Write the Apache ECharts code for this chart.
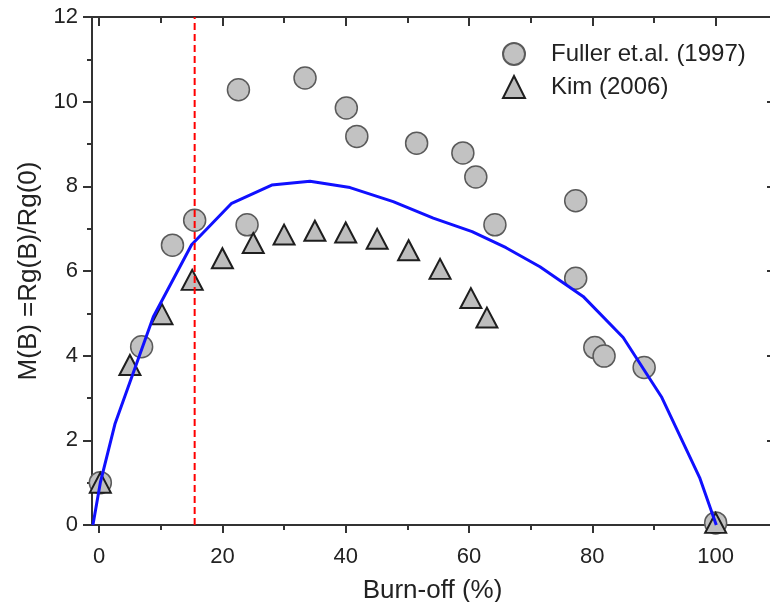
<!DOCTYPE html>
<html>
<head>
<meta charset="utf-8">
<script src="https://cdn.jsdelivr.net/npm/echarts@6/dist/echarts.min.js"></script>
<style>
html,body{margin:0;padding:0;background:#fff;}
#chart{width:770px;height:602px;}
</style>
</head>
<body>
<div id="chart"></div>
<script>
// ---- data ----
const fullerX = [0.2, 6.9, 11.9, 15.5, 22.6, 24.0, 33.4, 40.1, 41.8, 51.5, 59.0, 61.1, 64.2, 77.3, 77.3, 80.4, 81.9, 88.4, 100.0];
const fullerY = [1.0, 4.21, 6.61, 7.20, 10.28, 7.09, 10.56, 9.85, 9.18, 9.02, 8.79, 8.22, 7.09, 7.66, 5.83, 4.19, 3.99, 3.72, 0.05];
const kimX = [0.2, 5.0, 10.2, 15.1, 20.0, 25.0, 30.0, 35.0, 40.0, 45.1, 50.2, 55.3, 60.3, 62.9, 100.0];
const kimY = [1.0, 3.78, 4.98, 5.79, 6.30, 6.66, 6.86, 6.95, 6.91, 6.76, 6.49, 6.05, 5.36, 4.90, 0.05];
const fitX = [-1.0, 0.2, 2.6, 8.8, 15.0, 21.5, 28.0, 34.2, 40.7, 47.7, 54.2, 60.5, 66.0, 71.5, 78.5, 85.0, 91.2, 97.4, 100.1];
const fitY = [0.0, 1.0, 2.40, 4.92, 6.62, 7.60, 8.03, 8.12, 7.97, 7.64, 7.25, 6.93, 6.55, 6.10, 5.40, 4.43, 3.03, 1.12, 0.0];
const refLineX = 15.5;
const refLineY = [0, 12];
const xMajorTicks = [0, 20, 40, 60, 80, 100];
const xMinorTicks = [10, 30, 50, 70, 90];
const seriesNames = ['Fuller et.al. (1997)', 'Kim (2006)'];
const xTitle = 'Burn-off (%)';
const yTitle = 'M(B) =Rg(B)/Rg(0)';

const FONT = 'Liberation Sans, Arial, sans-serif';
const AX = '#333';
const X_MIN = -1.15, X_MAX = 109.3;

function xAx(pos, ticks, len, inside, extra) {
  return Object.assign({
    type: 'value', gridIndex: 0, position: pos, min: X_MIN, max: X_MAX,
    axisLine: {show: true, onZero: false, lineStyle: {color: AX, width: 2}},
    axisTick: {show: true, inside: inside, length: len, customValues: ticks, lineStyle: {color: AX, width: 2}},
    axisLabel: {show: false},
    splitLine: {show: false}
  }, extra || {});
}

const chart = echarts.init(document.getElementById('chart'), null, {renderer: 'canvas'});
chart.setOption({
  animation: false,
  backgroundColor: '#fff',
  textStyle: {fontFamily: FONT},
  grid: {left: 92, top: 17, right: -3, bottom: 77, containLabel: false, outerBoundsMode: 'none'},
  legend: {
    orient: 'vertical', left: 497, top: 37,
    itemWidth: 22, itemHeight: 22, itemGap: 9,
    data: seriesNames,
    textStyle: {fontSize: 24, color: '#222', fontFamily: FONT, padding: [0, 0, 0, 21]}
  },
  xAxis: [
    xAx('bottom', xMajorTicks, 8, false, {
      axisLabel: {show: true, customValues: xMajorTicks, fontSize: 22, color: '#222', margin: 21, fontFamily: FONT},
      name: xTitle, nameLocation: 'middle', nameGap: 53,
      nameTextStyle: {fontSize: 26, color: '#222', fontFamily: FONT}
    }),
    xAx('bottom', xMinorTicks, 5, false),
    xAx('top', xMajorTicks, 9, true),
    xAx('top', xMinorTicks, 6, true)
  ],
  yAxis: [
    {
      type: 'value', position: 'left', min: 0, max: 12, interval: 2,
      axisLine: {show: true, onZero: false, lineStyle: {color: AX, width: 2}},
      axisTick: {show: true, inside: false, length: 9, lineStyle: {color: AX, width: 2}},
      minorTick: {show: true, splitNumber: 2, length: 5, lineStyle: {color: AX, width: 2}},
      axisLabel: {fontSize: 22, color: '#222', margin: 14, fontFamily: FONT},
      splitLine: {show: false}, minorSplitLine: {show: false},
      name: yTitle, nameLocation: 'middle', nameGap: 50, nameRotate: 90,
      nameTextStyle: {fontSize: 26, color: '#222', fontFamily: FONT}
    },
    {
      type: 'value', position: 'right', min: 0, max: 12, interval: 2,
      axisLine: {show: true, onZero: false, lineStyle: {color: AX, width: 2}},
      axisTick: {show: true, inside: true, length: 6, lineStyle: {color: AX, width: 2}},
      axisLabel: {show: false},
      splitLine: {show: false}
    }
  ],
  series: [
    {
      name: seriesNames[0], type: 'scatter', xAxisIndex: 0, yAxisIndex: 0,
      symbol: 'circle', symbolSize: 22, z: 3,
      itemStyle: {color: '#c2c2c2', borderColor: '#5a5a5a', borderWidth: 1.5, opacity: 1},
      data: fullerX.map((x, i) => [x, fullerY[i]])
    },
    {
      name: seriesNames[1], type: 'scatter', xAxisIndex: 0, yAxisIndex: 0,
      symbol: 'triangle', symbolSize: [21, 20], z: 4,
      itemStyle: {color: '#bdbdbd', borderColor: '#1e1e1e', borderWidth: 2, opacity: 1},
      data: kimX.map((x, i) => [x, kimY[i]])
    },
    {
      name: 'fit', type: 'line', xAxisIndex: 0, yAxisIndex: 0,
      symbol: 'none', smooth: false, z: 5, clip: true,
      lineStyle: {color: '#1010ff', width: 3},
      data: fitX.map((x, i) => [x, fitY[i]])
    },
    {
      name: 'ref', type: 'line', xAxisIndex: 0, yAxisIndex: 0,
      symbol: 'none', z: 6,
      lineStyle: {color: '#ff0000', width: 2, type: [7, 4]},
      data: refLineY.map(y => [refLineX, y])
    }
  ]
});
</script>
</body>
</html>
